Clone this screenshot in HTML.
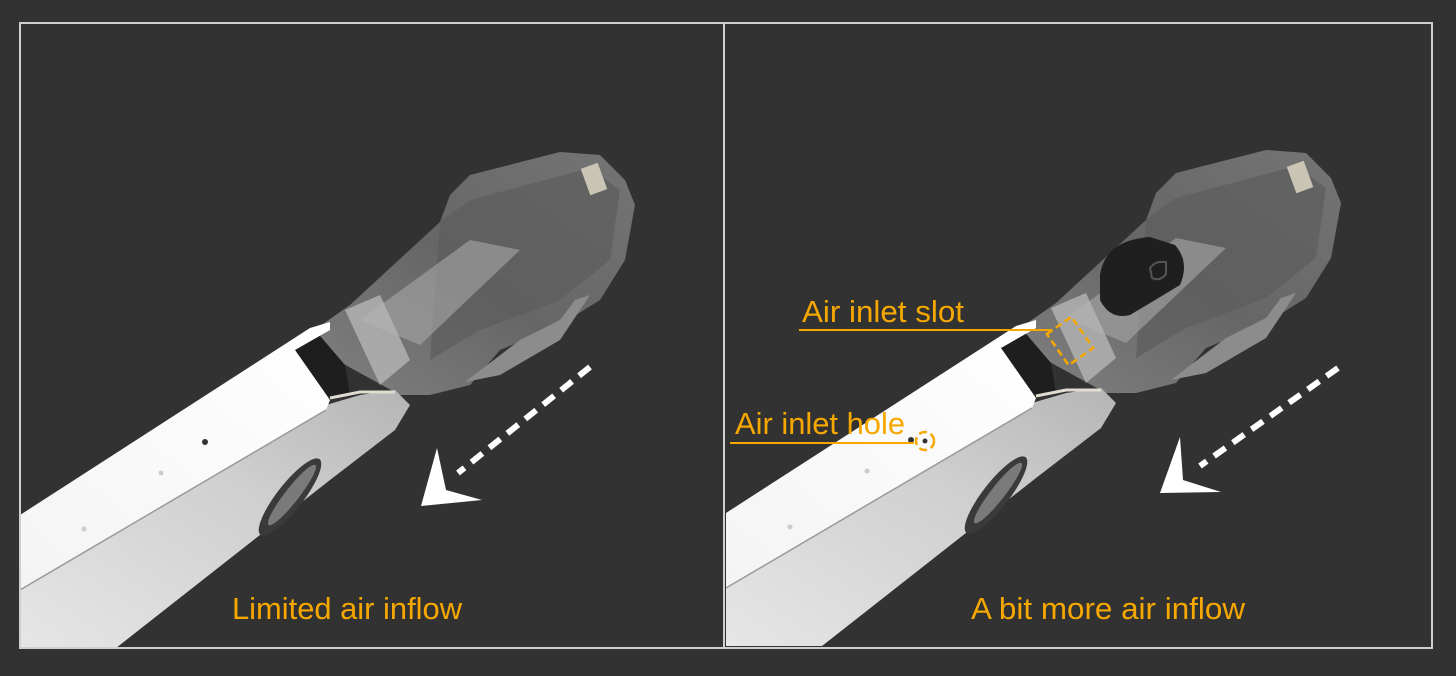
<!DOCTYPE html>
<html><head><meta charset="utf-8"><style>
html,body{margin:0;padding:0;background:#313231;}
svg{display:block}
text{font-family:"Liberation Sans","DejaVu Sans",sans-serif;fill:#f7a800}
</style></head><body>
<svg width="1456" height="676" viewBox="0 0 1456 676" xmlns="http://www.w3.org/2000/svg">
<defs>
<linearGradient id="top" x1="0" y1="1" x2="1" y2="0"><stop offset="0" stop-color="#f4f4f4"/><stop offset="1" stop-color="#ffffff"/></linearGradient>
<linearGradient id="side" x1="0" y1="1" x2="1" y2="0"><stop offset="0" stop-color="#e6e6e6"/><stop offset="0.6" stop-color="#cfcfcf"/><stop offset="1" stop-color="#b5b5b5"/></linearGradient>
<linearGradient id="cart" x1="0" y1="1" x2="1" y2="0"><stop offset="0" stop-color="#8a8a8a"/><stop offset="0.5" stop-color="#6c6c6c"/><stop offset="1" stop-color="#7c7c7c"/></linearGradient>
<clipPath id="cl"><rect x="21" y="24" width="702" height="623"/></clipPath>
<clipPath id="cr"><rect x="726" y="24" width="705" height="623"/></clipPath>
<g id="dev">
 <path d="M300,340 L350,305 L440,222 L450,195 L470,175 L560,152 L600,155 L625,180 L635,205 L625,260 L600,300 L560,325 L500,350 L470,385 L430,395 L400,395 Z" fill="url(#cart)" opacity="0.9"/>
 <path d="M440,222 L470,200 L590,168 L620,190 L610,260 L560,300 L480,330 L430,360 Z" fill="#5d5d5d" opacity="0.7"/>
 <path d="M360,320 L470,240 L520,250 L420,345 Z" fill="#a8a8a8" opacity="0.6"/>
 <path d="M345,310 L380,295 L410,360 L380,385 Z" fill="#b5b5b5" opacity="0.8"/>
 <rect x="585" y="165" width="18" height="28" fill="#c9c4b4" transform="rotate(-20 594 179)"/>
 <path d="M465,382 L520,340 L560,320 L575,300 L590,295 L560,340 L500,375 Z" fill="#8c8c8c"/>
 <path d="M280,350 L315,330 L345,365 L350,395 L330,400 Z" fill="#1e1e1e"/>
 <path d="M20,585 L326,405 L360,395 L395,390 L410,405 L395,430 L330,480 L116,648 L20,648 Z" fill="url(#side)"/>
 <path d="M20,515 L310,328 L330,322 L330,330 L295,350 L330,400 L326,410 L20,590 Z" fill="url(#top)"/>
 <path d="M20,590 L326,410" stroke="#9a9a9a" stroke-width="1.5"/>
 <path d="M330,398 L360,392 L395,392" stroke="#e0dcd0" stroke-width="3" fill="none"/>
 <ellipse cx="290" cy="497" rx="48" ry="13" transform="rotate(-52 290 497)" fill="#3a3a3a"/>
 <ellipse cx="292" cy="495" rx="38" ry="7" transform="rotate(-52 292 495)" fill="#7a7a7a"/>
 <circle cx="205" cy="442" r="3" fill="#333"/>
 <circle cx="161" cy="473" r="2.5" fill="#ccc"/>
 <circle cx="84" cy="529" r="2.5" fill="#ccc"/>
</g>
</defs>
<rect x="0" y="0" width="1456" height="676" fill="#313231"/>
<g clip-path="url(#cl)"><use href="#dev"/></g>
<g clip-path="url(#cr)"><use href="#dev" transform="translate(706,-2)"/>
 <path d="M1100,275 Q1105,240 1150,237 L1175,245 Q1190,262 1180,285 L1130,315 Q1110,320 1100,300 Z" fill="#1f1f1f"/>
 <path d="M1150,268 Q1155,262 1160,262 L1166,262 L1166,274 Q1160,282 1152,278 Z" fill="none" stroke="#555" stroke-width="2"/>
</g>
<rect x="20" y="23" width="1412" height="625" fill="none" stroke="#cfcfcf" stroke-width="2"/>
<line x1="724" y1="23" x2="724" y2="648" stroke="#cfcfcf" stroke-width="2"/>
<line x1="590" y1="367" x2="458" y2="473" stroke="#fff" stroke-width="6" stroke-dasharray="14,9"/>
<path d="M437,448 L446,490 L482,500 L421,506 Z" fill="#fff"/>
<line x1="1338" y1="368" x2="1200" y2="466" stroke="#fff" stroke-width="6" stroke-dasharray="14,9"/>
<path d="M1180,437 L1183,480 L1221,492 L1160,493 Z" fill="#fff"/>
<text x="232" y="619" font-size="31" textLength="230" lengthAdjust="spacingAndGlyphs">Limited air inflow</text>
<text x="971" y="619" font-size="31" textLength="274" lengthAdjust="spacingAndGlyphs">A bit more air inflow</text>
<text x="802" y="322" font-size="31" textLength="162" lengthAdjust="spacingAndGlyphs">Air inlet slot</text>
<line x1="799" y1="330" x2="1052" y2="330" stroke="#f7a800" stroke-width="2"/>
<rect x="1055" y="322" width="30" height="38" fill="none" stroke="#f7a800" stroke-width="2.5" stroke-dasharray="7,4" transform="rotate(-35 1070 341)"/>
<text x="735" y="434" font-size="31" textLength="170" lengthAdjust="spacingAndGlyphs">Air inlet hole</text>
<line x1="730" y1="443" x2="914" y2="443" stroke="#f7a800" stroke-width="2"/>
<circle cx="925" cy="441" r="9" fill="none" stroke="#f7a800" stroke-width="2.5" stroke-dasharray="8,4"/>
<circle cx="925" cy="441" r="2.5" fill="#333"/>
</svg>
</body></html>
